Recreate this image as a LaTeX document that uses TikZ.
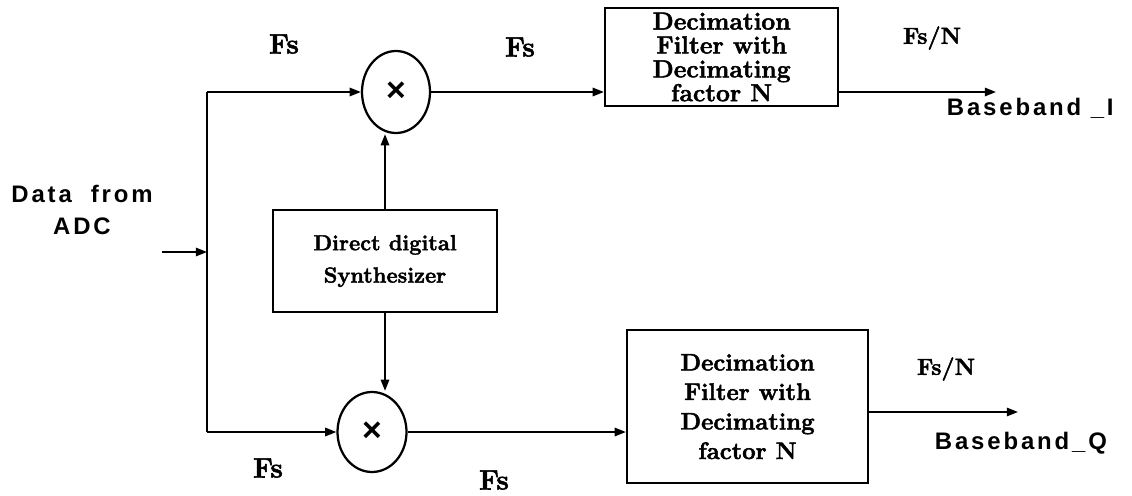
\documentclass[tikz,border=0pt]{standalone}
\usepackage{fontspec}
\usetikzlibrary{arrows.meta,shapes.geometric}
\setmainfont{Latin Modern Roman}[BoldFeatures={FakeBold=2}]
\newfontfamily\adcfont[LetterSpace=12]{Liberation Sans}
\newfontfamily\multfont{Liberation Sans}

\begin{document}
\begin{tikzpicture}[
    blk/.style={draw, line width=1.7pt, inner sep=0pt, align=center},
    mixer/.style={draw, ellipse, line width=1.6pt, inner sep=0pt,
      minimum width=1.7cm, minimum height=2.05cm,
      font=\multfont\bfseries\fontsize{24}{24}\selectfont},
    sig/.style={line width=1.3pt, -{Triangle[length=8pt,width=6pt]}},
    fslbl/.style={font=\bfseries\fontsize{20}{22}\selectfont},
    outlbl/.style={font=\adcfont\bfseries\fontsize{17}{20}\selectfont, align=center}
  ]
  \useasboundingbox (0,0) rectangle (28.3,12.375);

  % Input and bus
  \node[outlbl, font=\adcfont\bfseries\fontsize{17}{23}\selectfont] (adctxt) at (2.05,7.125) {Data \ from\\ADC};
  \coordinate (adc) at (4.05,6.075);
  \coordinate (busI) at (5.175,10.075);
  \coordinate (busQ) at (5.175,1.575);

  % Mixers
  \node[mixer] (mixI) at (9.9,10.075) {×};
  \node[mixer, minimum width=1.725cm, minimum height=2.0cm] (mixQ) at (9.3,1.575) {×};

  % Direct digital synthesizer
  \node[blk, minimum width=5.6cm, minimum height=2.55cm,
    font=\bfseries\fontsize{15.5}{23}\selectfont] (dds) at (9.625,5.85)
    {Direct digital\\Synthesizer};

  % Decimation filters
  \node[blk, minimum width=5.825cm, minimum height=2.45cm,
    font=\bfseries\fontsize{17.5}{17}\selectfont] (dfI) at (18.04,10.95)
    {Decimation\\Filter with\\Decimating\\factor N};
  \node[blk, minimum width=6.025cm, minimum height=3.825cm,
    font=\bfseries\fontsize{17}{21}\selectfont] (dfQ) at (18.69,2.21)
    {Decimation\\Filter with\\Decimating\\factor N};

  % Outputs
  \coordinate (outI) at (24.9,10.075);
  \coordinate (outQ) at (25.45,2.075);
  \node[outlbl, anchor=west] (bbI) at (23.55,9.675) {Baseband \_I};
  \node[outlbl, anchor=west] (bbQ) at (23.25,1.3) {Baseband\_Q};

  % Rate labels
  \node[fslbl] (fs1) at (7.1,11.275) {Fs};
  \node[fslbl] (fs2) at (13.0,11.2) {Fs};
  \node[fslbl, font=\bfseries\fontsize{16.5}{20}\selectfont] (fsn1) at (23.3,11.425) {Fs/N};
  \node[fslbl] (fs3) at (6.7,0.675) {Fs};
  \node[fslbl] (fs4) at (12.35,0.375) {Fs};
  \node[fslbl, font=\bfseries\fontsize{16.5}{20}\selectfont] (fsn2) at (23.65,3.15) {Fs/N};

  % Connections
  \draw[sig] (adc) -- (adc -| busI);
  \draw[line width=1.3pt] (busQ) -- (busI);
  \draw[sig] (busI) -- (mixI.west);
  \draw[sig] (busQ) -- (mixQ.west);
  \draw[sig] (dds.north) -- (dds.north |- mixI.south);
  \draw[sig] (dds.south) -- (dds.south |- mixQ.north);
  \draw[sig] (mixI.east) -- (mixI.east -| dfI.west);
  \draw[sig] (mixQ.east) -- (mixQ.east -| dfQ.west);
  \draw[sig] (outI -| dfI.east) -- (outI);
  \draw[sig] (outQ -| dfQ.east) -- (outQ);
\end{tikzpicture}
\end{document}
